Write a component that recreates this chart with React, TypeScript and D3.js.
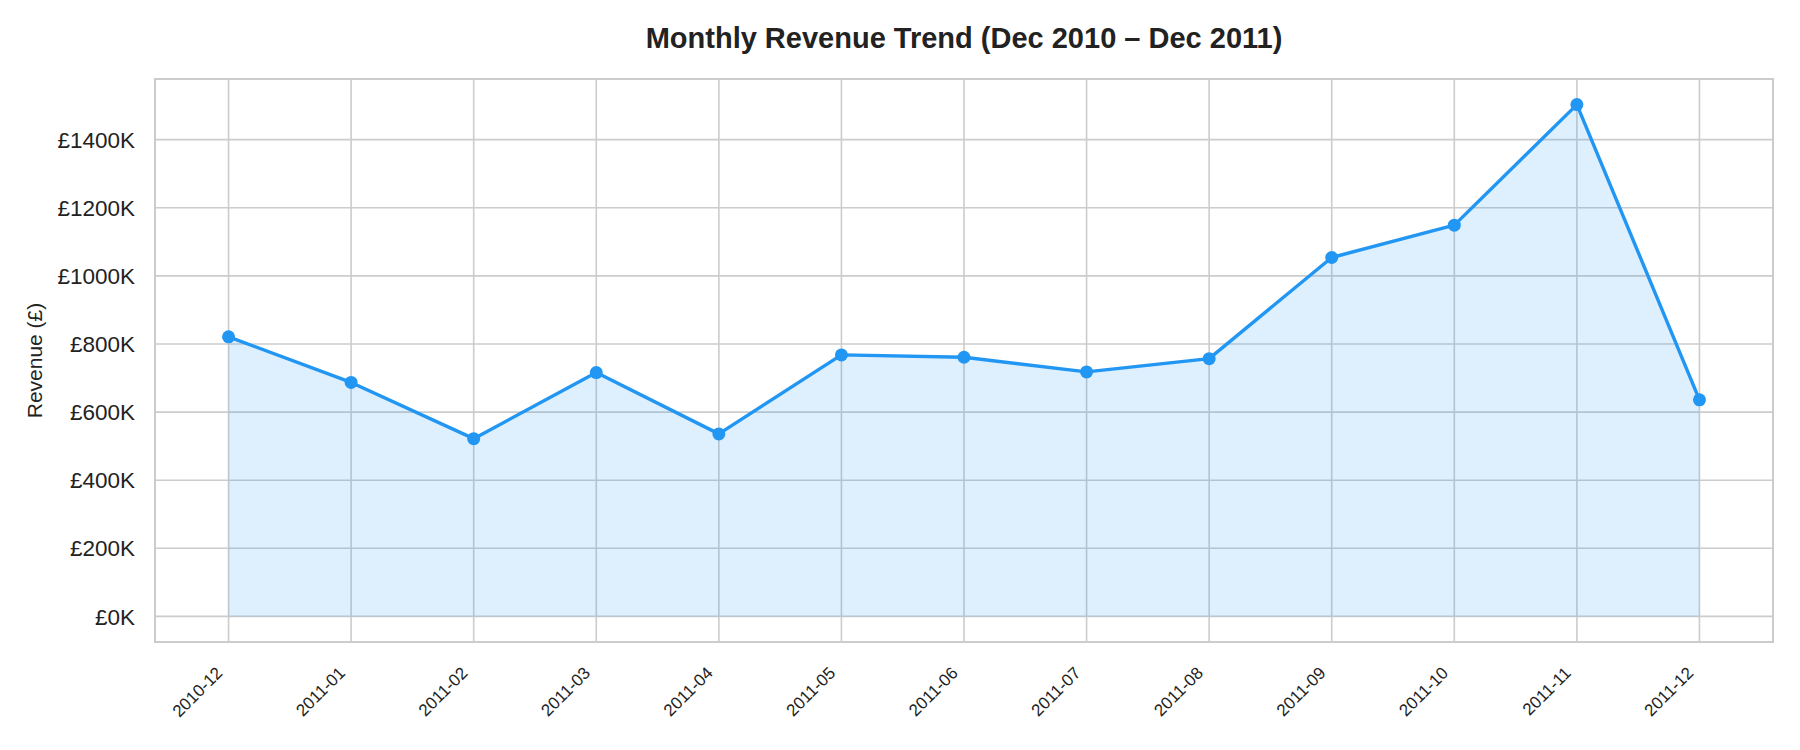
import * as d3 from "d3";

const months = [
  "2010-12", "2011-01", "2011-02", "2011-03", "2011-04", "2011-05", "2011-06",
  "2011-07", "2011-08", "2011-09", "2011-10", "2011-11", "2011-12",
];
const revenue = [
  821000, 687000, 522000, 716000, 536000, 768000, 761000,
  718000, 757000, 1054000, 1149000, 1503000, 636000,
];
const yTicks = [0, 200000, 400000, 600000, 800000, 1000000, 1200000, 1400000];

const title = "Monthly Revenue Trend (Dec 2010 \u2013 Dec 2011)";
const yLabel = "Revenue (\u00a3)";

export default function App() {
  const width = 1800;
  const height = 750;
  const margin = { top: 79, right: 27, bottom: 108, left: 155 };
  const font = "'Liberation Sans', Arial, sans-serif";
  const blue = "#2196F3";
  const grid = "#cccccc";

  // matplotlib-like 5% margins
  const n = months.length;
  const x = d3.scaleLinear()
    .domain([-0.6, n - 1 + 0.6])
    .range([margin.left, width - margin.right]);

  const maxV = d3.max(revenue) || 1;
  const y = d3.scaleLinear()
    .domain([-0.05 * maxV, 1.05 * maxV])
    .range([height - margin.bottom, margin.top]);

  const line = d3.line<number>()
    .x((_, i) => x(i))
    .y(d => y(d));

  const area = d3.area<number>()
    .x((_, i) => x(i))
    .y0(y(0))
    .y1(d => y(d));

  const x0 = margin.left;
  const x1 = width - margin.right;
  const y0 = margin.top;
  const y1 = height - margin.bottom;

  return (
    <svg
      width={width}
      height={height}
      style={{ position: "absolute", left: 0, top: 0, background: "#fff" }}
      fontFamily={font}
    >
      <rect x={0} y={0} width={width} height={height} fill="#fff" />

      {/* grid */}
      {yTicks.map(t => (
        <line key={"gy" + t} x1={x0} x2={x1} y1={y(t)} y2={y(t)} stroke={grid} strokeWidth={1.6} />
      ))}
      {months.map((m, i) => (
        <line key={"gx" + m} x1={x(i)} x2={x(i)} y1={y0} y2={y1} stroke={grid} strokeWidth={1.6} />
      ))}

      {/* area + line */}
      <path d={area(revenue) || ""} fill={blue} fillOpacity={0.15} />
      <path d={line(revenue) || ""} fill="none" stroke={blue} strokeWidth={3.4} strokeLinejoin="round" />
      {revenue.map((v, i) => (
        <circle key={"p" + i} cx={x(i)} cy={y(v)} r={6.5} fill={blue} />
      ))}

      {/* frame */}
      <rect x={x0} y={y0} width={x1 - x0} height={y1 - y0} fill="none" stroke={grid} strokeWidth={2} />

      {/* y ticks */}
      {yTicks.map(t => (
        <text
          key={"ty" + t}
          x={x0 - 20}
          y={y(t)}
          dy="0.36em"
          textAnchor="end"
          fontSize={22.5}
          fill="#222"
        >
          {`\u00a3${t / 1000}K`}
        </text>
      ))}

      {/* x ticks */}
      {months.map((m, i) => (
        <text
          key={"tx" + m}
          transform={`translate(${x(i) - 5},${y1 + 32}) rotate(-45)`}
          textAnchor="end"
          fontSize={17}
          fill="#222"
        >
          {m}
        </text>
      ))}

      {/* y label */}
      <text
        transform={`translate(42,${(y0 + y1) / 2}) rotate(-90)`}
        textAnchor="middle"
        fontSize={21}
        fill="#222"
      >
        {yLabel}
      </text>

      {/* title */}
      <text
        x={(x0 + x1) / 2}
        y={48}
        textAnchor="middle"
        fontSize={29}
        fontWeight="bold"
        fill="#222"
      >
        {title}
      </text>
    </svg>
  );
}
